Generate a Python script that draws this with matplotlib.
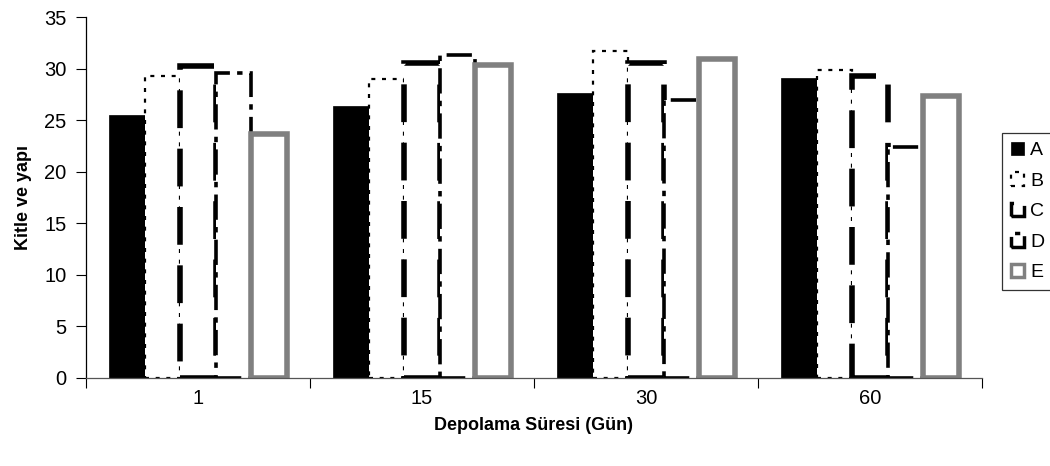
import matplotlib
matplotlib.use("Agg")
import matplotlib.pyplot as plt
from matplotlib.patches import Patch
import numpy as np

plt.rcParams['font.family'] = ['Liberation Sans', 'DejaVu Sans']

categories = ['1', '15', '30', '60']
series_names = ['A', 'B', 'C', 'D', 'E']
A = [25.5, 26.4, 27.6, 29.1]
B = [29.3, 29.0, 31.7, 29.9]
C = [30.3, 30.6, 30.6, 29.3]
D = [29.6, 31.3, 27.0, 22.4]
E = [23.7, 30.4, 30.9, 27.4]
y_ticks = [0, 5, 10, 15, 20, 25, 30, 35]

styles = [
    dict(facecolor='black', edgecolor='black', linewidth=0.5, linestyle='-'),
    dict(facecolor='white', edgecolor='black', linewidth=1.6, linestyle=(0, (1.8, 3.0))),
    dict(facecolor='white', edgecolor='black', linewidth=4.0, linestyle=(0, (6.8, 3.7))),
    dict(facecolor='white', edgecolor='black', linewidth=2.6, linestyle=(0, (7.0, 2.0, 1.5, 2.0))),
    dict(facecolor='white', edgecolor='#808080', linewidth=4.0, linestyle='-'),
]

fig = plt.figure(figsize=(10.5, 4.66), dpi=100)
ax = fig.add_axes([86 / 1050, 1 - 377.5 / 466, (982 - 86) / 1050, (377.5 - 17.3) / 466])

n = len(categories)
x = np.arange(n)
bar_w = 0.159
offsets = (np.arange(5) - 2) * bar_w
for vals, off, st, name in zip([A, B, C, D, E], offsets, styles, series_names):
    ax.bar(x + off, vals, width=bar_w, label=name, **st)

ax.set_xlim(-0.5, n - 0.5)
ax.set_ylim(0, 35)
ax.set_yticks(y_ticks)

# category boundaries get the tick marks, centres carry the labels
ax.set_xticks(np.arange(n + 1) - 0.5)
ax.set_xticklabels([])
ax.set_xticks(x, minor=True)
ax.set_xticklabels(categories, minor=True)
ax.tick_params(axis='x', which='minor', length=0, pad=8, labelsize=14.5)
ax.tick_params(axis='x', which='major', length=7, width=0.8, direction='out')
ax.tick_params(axis='y', length=7, width=0.8, direction='out', pad=7, labelsize=14.5)

for s in ['top', 'right']:
    ax.spines[s].set_visible(False)
ax.spines['left'].set_linewidth(0.9)
ax.spines['bottom'].set_linewidth(0.9)
ax.spines['bottom'].set_color('#555555')

ax.set_xlabel('Depolama Süresi (Gün)', fontsize=13, fontweight='bold', labelpad=7)
ax.set_ylabel('Kitle ve yapı', fontsize=13, fontweight='bold', labelpad=9)

handles = []
for st in styles:
    h = dict(st)
    h['linewidth'] = min(st['linewidth'], 2.5)
    handles.append(Patch(**h))
leg = fig.legend(handles, series_names, loc='upper left',
                 bbox_to_anchor=(1002 / 1050, 1 - 133 / 466), borderaxespad=0,
                 fontsize=14, frameon=True, fancybox=False, edgecolor='black',
                 handlelength=0.7, handleheight=0.7, handletextpad=0.3,
                 labelspacing=0.66, borderpad=0.45)
leg.get_frame().set_linewidth(0.9)

fig.savefig('out.png', dpi=100)
